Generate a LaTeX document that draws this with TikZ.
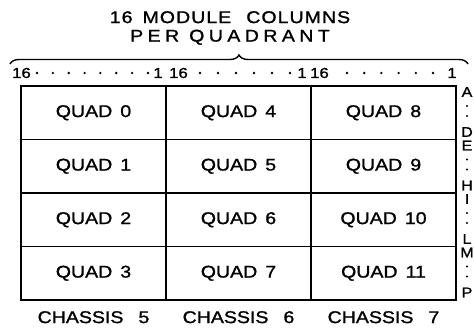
\documentclass[tikz,border=0pt]{standalone}
\usepackage{fontspec}
\newfontfamily\labfont[FakeStretch=1.15,FakeBold=1.2]{Liberation Sans}
\newfontfamily\headfont[FakeStretch=1.15,FakeBold=1.2,LetterSpace=6]{Liberation Sans}
\newfontfamily\headwidefont[FakeStretch=1.15,FakeBold=1.2,LetterSpace=26]{Liberation Sans}
\usetikzlibrary{positioning, calc, decorations.pathreplacing}

\tikzset{
  quadcell/.style={draw, line width=1.5pt, minimum width=145pt, minimum height=53.5pt,
    inner sep=0pt, outer sep=0pt, font=\labfont\fontsize{17}{17}\selectfont},
  scalelbl/.style={inner sep=0pt, font=\labfont\fontsize{14.5}{14.5}\selectfont},
  rowlbl/.style={inner sep=0pt, font=\labfont\fontsize{14}{14}\selectfont},
  chassislbl/.style={inner sep=0pt, font=\labfont\fontsize{17}{17}\selectfont}
}

\begin{document}
\begin{tikzpicture}[x=1pt, y=-1pt, node distance=0pt]
\useasboundingbox (0,0) rectangle (474,331);

% Title and brace
\node[align=center, font=\fontsize{17}{18.5}\selectfont] (title) at (230,28)
  {\headfont 16\hspace{10pt}MODULE\hspace{15pt}COLUMNS\\\headwidefont PER\hspace{10pt}QUADRANT};
\coordinate (braceL) at (10,64);
\coordinate (braceR) at (468,64);
\draw[line width=1.4pt, decorate, decoration={brace, amplitude=9pt}] (braceL) -- (braceR);

% Module column scale
\foreach \s/\a/\b/\p/\q/\n in {1/21.5/158/37/148/8, 2/178.5/302/200/290/6, 3/319.5/452/347/433/6} {
  \node[scalelbl] (hi\s) at (\a,73) {16};
  \node[scalelbl] (lo\s) at (\b,73) {1};
  \foreach \k in {1,...,\n} {
    \pgfmathsetmacro{\dx}{\p+(\k-1)*(\q-\p)/(\n-1)}
    \fill (\dx,73) circle (1.3pt);
  }
}

% Quadrants
\node[quadcell] (quad0) at (93.5,112.75) {QUAD\hspace{8pt}0};
\node[quadcell, below=of quad0] (quad1) {QUAD\hspace{8pt}1};
\node[quadcell, below=of quad1] (quad2) {QUAD\hspace{8pt}2};
\node[quadcell, below=of quad2] (quad3) {QUAD\hspace{8pt}3};
\node[quadcell, right=of quad0] (quad4) {QUAD\hspace{8pt}4};
\node[quadcell, below=of quad4] (quad5) {QUAD\hspace{8pt}5};
\node[quadcell, below=of quad5] (quad6) {QUAD\hspace{8pt}6};
\node[quadcell, below=of quad6] (quad7) {QUAD\hspace{8pt}7};
\node[quadcell, right=of quad4] (quad8) {QUAD\hspace{8pt}8};
\node[quadcell, below=of quad8] (quad9) {QUAD\hspace{8pt}9};
\node[quadcell, below=of quad9] (quad10) {QUAD\hspace{8pt}10};
\node[quadcell, below=of quad10] (quad11) {QUAD\hspace{8pt}11};
\draw[line width=2.2pt] (quad0.north west) rectangle (quad11.south east);

% Row letters
\foreach \ua/\ub [count=\i from 0] in {A/D, E/H, I/L, M/P} {
  \pgfmathsetmacro{\ytop}{86+53.5*\i}
  \node[rowlbl] (ltr\ua) at (467,\ytop+6) {\ua};
  \fill (467,\ytop+20) circle (1.2pt);
  \fill (467,\ytop+30) circle (1.2pt);
  \node[rowlbl] (ltr\ub) at (467,\ytop+46) {\ub};
}

% Chassis
\node[chassislbl, below=11pt of quad3] (chassis5) {CHASSIS\hspace{15pt}5};
\node[chassislbl, below=11pt of quad7] (chassis6) {CHASSIS\hspace{15pt}6};
\node[chassislbl, below=11pt of quad11] (chassis7) {CHASSIS\hspace{15pt}7};

\end{tikzpicture}
\end{document}
